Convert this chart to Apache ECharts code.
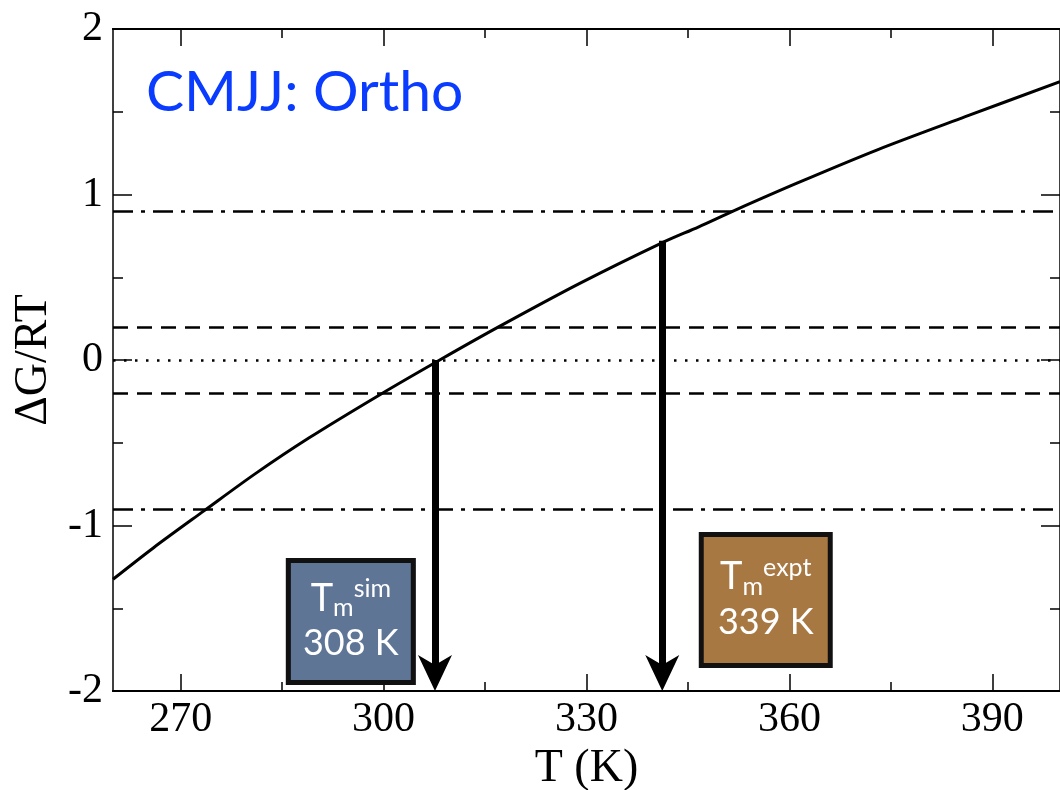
<!DOCTYPE html>
<html>
<head>
<meta charset="utf-8">
<script src="https://cdn.jsdelivr.net/npm/echarts@6/dist/echarts.min.js"></script>
<style>
  html, body { margin: 0; padding: 0; background: #fff; }
  #chart { width: 1060px; height: 790px; }
</style>
</head>
<body>
<div id="chart"></div>
<script>
// temperature (K) and dG/RT
var temps = [260, 266, 273.5, 281, 289, 299.4, 308.3, 317, 329, 341, 346.6, 352, 361.2, 373, 386, 400];
var dgrt  = [-1.325, -1.134, -0.91, -0.688, -0.47, -0.211, 0, 0.2, 0.463, 0.705, 0.805, 0.906, 1.07, 1.27, 1.47, 1.682];

var majorTicksX = [270, 300, 330, 360, 390];
var minorTicksX = [285, 315, 345, 375];

// horizontal reference levels
var dashDotLevels = [0.9, -0.9];
var dashedLevels = [0.2, -0.2];
var dottedLevels = [0];

// melting temperature arrows
var arrowT = [307.6, 341.2];
var arrowTop = [0, 0.72];

var boxNames = ['sim', 'expt'];
var boxValues = ['308 K', '339 K'];

var chart = echarts.init(document.getElementById('chart'));

var serif = 'Liberation Serif';
var sans = 'Lato';

function xAxisDef(pos, ticks, len, withLabel) {
  return {
    type: 'value', position: pos, min: 260, max: 400,
    axisLine: { show: true, onZero: false, lineStyle: { color: '#000', width: 2 } },
    axisTick: { show: true, inside: true, length: len, customValues: ticks, lineStyle: { color: '#000', width: 1.5 } },
    axisLabel: withLabel ? { show: true, customValues: ticks, fontFamily: serif, fontSize: 42, color: '#000', margin: 8 } : { show: false },
    splitLine: { show: false }
  };
}

var xBottom = xAxisDef('bottom', majorTicksX, 17, true);
xBottom.name = 'T (K)';
xBottom.nameLocation = 'middle';
xBottom.nameGap = 46;
xBottom.nameTextStyle = { fontFamily: serif, fontSize: 46, color: '#000' };

function yAxisDef(pos, withLabel) {
  return {
    type: 'value', position: pos, min: -2, max: 2, interval: 1,
    axisLine: { show: true, onZero: false, lineStyle: { color: '#000', width: 1.5 } },
    axisTick: { show: true, inside: true, length: 19, lineStyle: { color: '#000', width: 1.5 } },
    minorTick: { show: true, splitNumber: 2, length: 10, lineStyle: { color: '#000', width: 1.5 } },
    axisLabel: withLabel ? { show: true, fontFamily: serif, fontSize: 42, color: '#000', margin: 10,
      formatter: function (v) { return v < 0 ? '-' + Math.abs(v) : String(v); } } : { show: false },
    splitLine: { show: false }
  };
}

var yLeft = yAxisDef('left', true);
yLeft.name = 'ΔG/RT';
yLeft.nameLocation = 'middle';
yLeft.nameRotate = 90;
yLeft.nameGap = 52;
yLeft.nameTextStyle = { fontFamily: serif, fontSize: 46, color: '#000' };

function refLines(levels, dash) {
  return levels.map(function (v) {
    return { yAxis: v, lineStyle: { type: dash, color: '#000', width: 2.5 } };
  });
}

function boxLabel(name, value) {
  return '{t|T}{m|m}{s|' + name + '}\n{v|' + value + '}';
}

var boxRich = {
  t: { fontFamily: sans, fontSize: 38, color: '#fff', lineHeight: 44, verticalAlign: 'middle' },
  m: { fontFamily: sans, fontSize: 25, color: '#fff', lineHeight: 44, verticalAlign: 'bottom' },
  s: { fontFamily: sans, fontSize: 25, color: '#fff', lineHeight: 44, verticalAlign: 'top' },
  v: { fontFamily: sans, fontSize: 36, color: '#fff', lineHeight: 46 }
};

// downward arrow head, notched at the back
var arrowHead = 'path://M0,0 L17,10 L34,0 L17,36 Z';

var option = {
  animation: false,
  backgroundColor: '#fff',
  title: {
    text: 'CMJJ: Ortho', left: 141, top: 59,
    textStyle: { fontFamily: sans, fontSize: 57, fontWeight: 'normal', color: '#0a3cff' }
  },
  grid: { left: 113, right: 0, top: 29, bottom: 99, containLabel: false, outerBoundsMode: 'none' },
  xAxis: [
    xBottom,
    xAxisDef('bottom', minorTicksX, 9, false),
    xAxisDef('top', majorTicksX, 17, false),
    xAxisDef('top', minorTicksX, 9, false)
  ],
  yAxis: [yLeft, yAxisDef('right', false)],
  series: [
    {
      type: 'line',
      xAxisIndex: 0, yAxisIndex: 0,
      data: temps.map(function (t, i) { return [t, dgrt[i]]; }),
      smooth: 0.3,
      showSymbol: false,
      lineStyle: { color: '#000', width: 3 },
      silent: true,
      z: 3,
      markLine: {
        silent: true,
        symbol: ['none', 'none'],
        label: { show: false },
        data: [].concat(refLines(dashDotLevels, [20, 8, 4, 8]), refLines(dashedLevels, [15, 9]), refLines(dottedLevels, [2.5, 8.5]))
      }
    },
    {
      type: 'line',
      xAxisIndex: 0, yAxisIndex: 0,
      data: [],
      silent: true,
      z: 4,
      markLine: {
        silent: true,
        symbol: ['none', 'none'],
        label: { show: false },
        lineStyle: { type: 'solid', color: '#000', width: 7, opacity: 1 },
        // shaft stops inside the head so it does not poke through the tip
        data: arrowT.map(function (t, i) {
          return [{ coord: [t, arrowTop[i]] }, { coord: [t, -1.92] }];
        })
      }
    },
    {
      type: 'line',
      xAxisIndex: 0, yAxisIndex: 0,
      data: [],
      silent: true,
      z: 5,
      markPoint: {
        silent: true,
        symbol: arrowHead,
        symbolSize: [34, 36],
        symbolKeepAspect: false,
        symbolOffset: [0, -18],
        itemStyle: { color: '#000' },
        label: { show: false },
        data: arrowT.map(function (t) { return { coord: [t, -2], value: t }; })
      }
    },
    {
      type: 'line',
      xAxisIndex: 0, yAxisIndex: 0,
      data: [],
      silent: true,
      z: 6,
      markPoint: {
        silent: true,
        symbol: 'rect',
        data: [
          { coord: [295.16, -1.58], symbolSize: [125, 122], value: 0,
            itemStyle: { color: '#5f7596', borderColor: '#111', borderWidth: 5 },
            label: { show: true, position: 'inside', formatter: boxLabel(boxNames[0], boxValues[0]), rich: boxRich } },
          { coord: [356.5, -1.45], symbolSize: [129, 131], value: 1,
            itemStyle: { color: '#a87842', borderColor: '#111', borderWidth: 5 },
            label: { show: true, position: 'inside', formatter: boxLabel(boxNames[1], boxValues[1]), rich: boxRich } }
        ]
      }
    }
  ]
};

chart.setOption(option);
</script>
</body>
</html>
